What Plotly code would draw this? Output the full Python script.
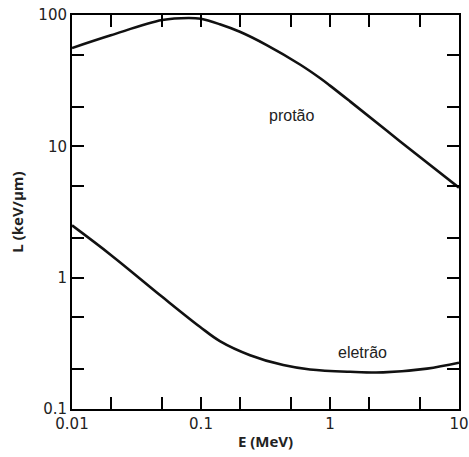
import math
import plotly.graph_objects as go

# Stopping power L (keV/um) versus kinetic energy E (MeV)
proton_E = [0.01, 0.02, 0.05, 0.08, 0.1, 0.14, 0.2, 0.323, 0.585, 0.84, 1.0, 1.43, 3.5, 10.0]
proton_L = [56.0, 70.0, 91.5, 95.0, 93.5, 85.0, 74.5, 59.0, 42.0, 33.0, 29.0, 22.0, 10.9, 4.85]

electron_E = [0.01, 0.02, 0.05, 0.098, 0.14, 0.24, 0.434, 0.70, 1.43, 2.58, 5.65, 10.0]
electron_L = [2.5, 1.49, 0.715, 0.423, 0.329, 0.257, 0.216, 0.200, 0.192, 0.190, 0.203, 0.225]

# labelled decades plus unlabelled 2 and 5 ticks
x_tickvals = [0.01, 0.02, 0.05, 0.1, 0.2, 0.5, 1, 2, 5, 10]
x_ticktext = ["0.01", "", "", "0.1", "", "", "1", "", "", "10"]
y_tickvals = [0.1, 0.2, 0.5, 1, 2, 5, 10, 20, 50, 100]
y_ticktext = ["0.1", "", "", "1", "", "", "10", "", "", "100"]

labels = [("protão", 0.5, 17.3), ("eletrão", 1.8, 0.27)]

ink = "#222222"
line_style = dict(color="#111111", width=2.6, shape="spline", smoothing=1.0)

fig = go.Figure()
fig.add_trace(go.Scatter(x=proton_E, y=proton_L, mode="lines", line=line_style,
                         showlegend=False, hoverinfo="skip"))
fig.add_trace(go.Scatter(x=electron_E, y=electron_L, mode="lines", line=line_style,
                         showlegend=False, hoverinfo="skip"))

# annotations on log axes take log10 positions
for text, x, y in labels:
    fig.add_annotation(x=math.log10(x), y=math.log10(y), xref="x", yref="y",
                       text=text, showarrow=False,
                       font=dict(family="Liberation Sans, Arial, sans-serif", size=16, color=ink))

frame = dict(
    type="log",
    showgrid=False,
    zeroline=False,
    showline=True,
    linecolor="black",
    linewidth=2,
    mirror="ticks",
    ticks="inside",
    ticklen=12,
    tickwidth=2,
    tickcolor="black",
)

fig.update_layout(
    template="none",
    font=dict(family="DejaVu Sans, sans-serif", size=15, color=ink),
    xaxis=dict(
        **frame,
        range=[-2, 1],
        tickvals=x_tickvals,
        ticktext=x_ticktext,
        title=dict(text="<b>E (MeV)</b>", standoff=4,
                   font=dict(family="Open Sans, sans-serif", size=15, color=ink)),
    ),
    yaxis=dict(
        **frame,
        range=[-1, 2],
        tickvals=y_tickvals,
        ticktext=y_ticktext,
        title=dict(text="<b>L (keV/µm)</b>", standoff=11,
                   font=dict(family="Open Sans, sans-serif", size=15, color=ink)),
    ),
    width=469,
    height=457,
    margin=dict(l=72, r=10, t=15, b=48),
    plot_bgcolor="white",
    paper_bgcolor="white",
)

fig.write_html("out.html")
